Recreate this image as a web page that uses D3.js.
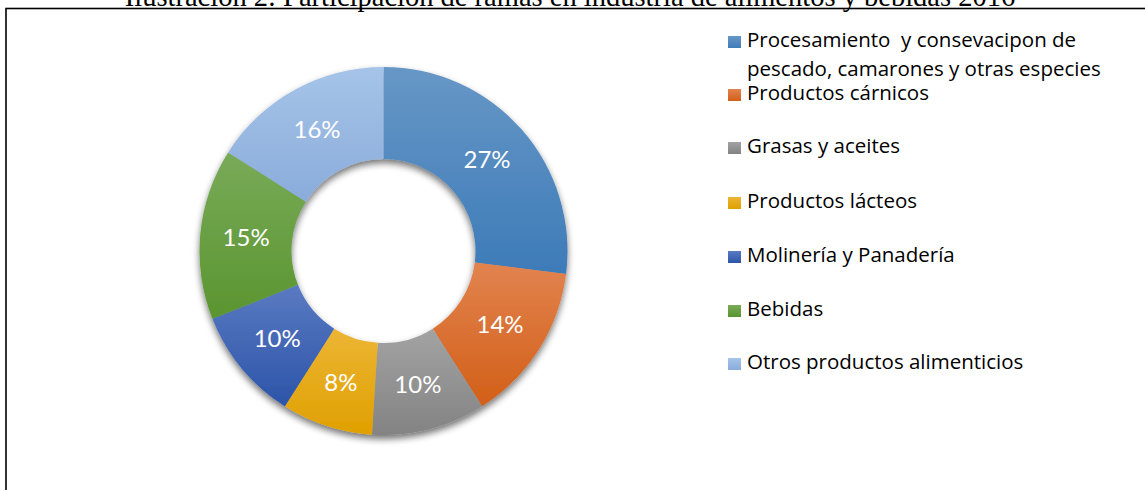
<!DOCTYPE html>
<html>
<head>
<meta charset="utf-8">
<script src="https://cdn.jsdelivr.net/npm/d3@7"></script>
<style>
  html, body { margin: 0; padding: 0; background: #fff; overflow: hidden; }
</style>
</head>
<body>
<div id="chart"></div>
<script>
// datos
const titulo = 'Ilustración 2: Participación de ramas en industria de alimentos y bebidas 2016';
const ramas = [
    'Procesamiento  y consevacipon de|pescado, camarones y otras especies',
    'Productos cárnicos',
    'Grasas y aceites',
    'Productos lácteos',
    'Molinería y Panadería',
    'Bebidas',
    'Otros productos alimenticios'
];
const participacion = [27, 14, 10, 8, 10, 15, 16];

// colores: arriba claro, abajo oscuro
const coloresClaros = ['#6797c6', '#e2834f', '#a3a3a3', '#ecb535', '#5a7ac2', '#79aa58', '#a6c4e8'];
const coloresOscuros = ['#3d7bb8', '#d25f18', '#838383', '#e0a000', '#2c54a8', '#5a9530', '#8aacdb'];

const width = 1145, height = 490;
const cx = 383.5, cy = 251, rOut = 184, rIn = 92;

const svg = d3.select('#chart').append('svg')
    .attr('width', width)
    .attr('height', height);

const defs = svg.append('defs');

// sombra
const filtro = defs.append('filter')
    .attr('id', 'sombra')
    .attr('x', '-20%').attr('y', '-20%')
    .attr('width', '140%').attr('height', '140%');
filtro.append('feGaussianBlur').attr('in', 'SourceAlpha').attr('stdDeviation', 3.5);
filtro.append('feOffset').attr('dx', 0).attr('dy', 4).attr('result', 'desplazado');
filtro.append('feComponentTransfer').append('feFuncA').attr('type', 'linear').attr('slope', 0.55);
const merge = filtro.append('feMerge');
merge.append('feMergeNode');
merge.append('feMergeNode').attr('in', 'SourceGraphic');

ramas.forEach((d, i) => {
    const g = defs.append('linearGradient')
        .attr('id', 'grad' + i)
        .attr('x1', 0).attr('y1', 0).attr('x2', 0).attr('y2', 1);
    g.append('stop').attr('offset', '0%').attr('stop-color', coloresClaros[i]);
    g.append('stop').attr('offset', '100%').attr('stop-color', coloresOscuros[i]);
});

// título (recortado arriba, como en el original)
svg.append('text')
    .attr('x', 570)
    .attr('y', 6)
    .attr('text-anchor', 'middle')
    .style('font-family', '"Liberation Serif", "Times New Roman", serif')
    .style('font-size', '28.5px')
    .text(titulo);

// marco
svg.append('rect')
    .attr('x', 6)
    .attr('y', 8.5)
    .attr('width', width + 10)
    .attr('height', height + 10)
    .attr('fill', 'none')
    .attr('stroke', '#000')
    .attr('stroke-width', 1.6);

// dona
const pie = d3.pie().sort(null).value(d => d);
const arc = d3.arc().innerRadius(rIn).outerRadius(rOut);
const arcos = pie(participacion);

const dona = svg.append('g')
    .attr('transform', `translate(${cx},${cy})`);

dona.append('g')
    .attr('filter', 'url(#sombra)')
    .selectAll('path')
    .data(arcos)
    .join('path')
    .attr('d', arc)
    .attr('fill', (d, i) => `url(#grad${i})`);

dona.selectAll('text')
    .data(arcos)
    .join('text')
    .attr('transform', d => `translate(${arc.centroid(d)})`)
    .attr('text-anchor', 'middle')
    .attr('dy', '0.35em')
    .attr('fill', '#fff')
    .style('font-family', 'Lato, "Open Sans", sans-serif')
    .style('font-size', '24px')
    .text(d => d.data + '%');

// leyenda
const baselines = [47, 100, 153, 208, 262, 316, 369];
const leyenda = svg.append('g')
    .style('font-family', '"Open Sans", Lato, sans-serif')
    .style('font-size', '20.5px')
    .attr('fill', '#000');

ramas.forEach((r, i) => {
    const y = baselines[i];
    const lineas = r.split('|');
    leyenda.append('rect')
        .attr('x', 728)
        .attr('y', y - 11)
        .attr('width', 13)
        .attr('height', 12)
        .attr('fill', `url(#grad${i})`);
    const t = leyenda.append('text')
        .attr('x', 747)
        .attr('y', y);
    lineas.forEach((l, j) => {
        t.append('tspan')
            .attr('x', 747)
            .attr('dy', j === 0 ? 0 : 29)
            .style('white-space', 'pre')
            .text(l);
    });
});
</script>
</body>
</html>
